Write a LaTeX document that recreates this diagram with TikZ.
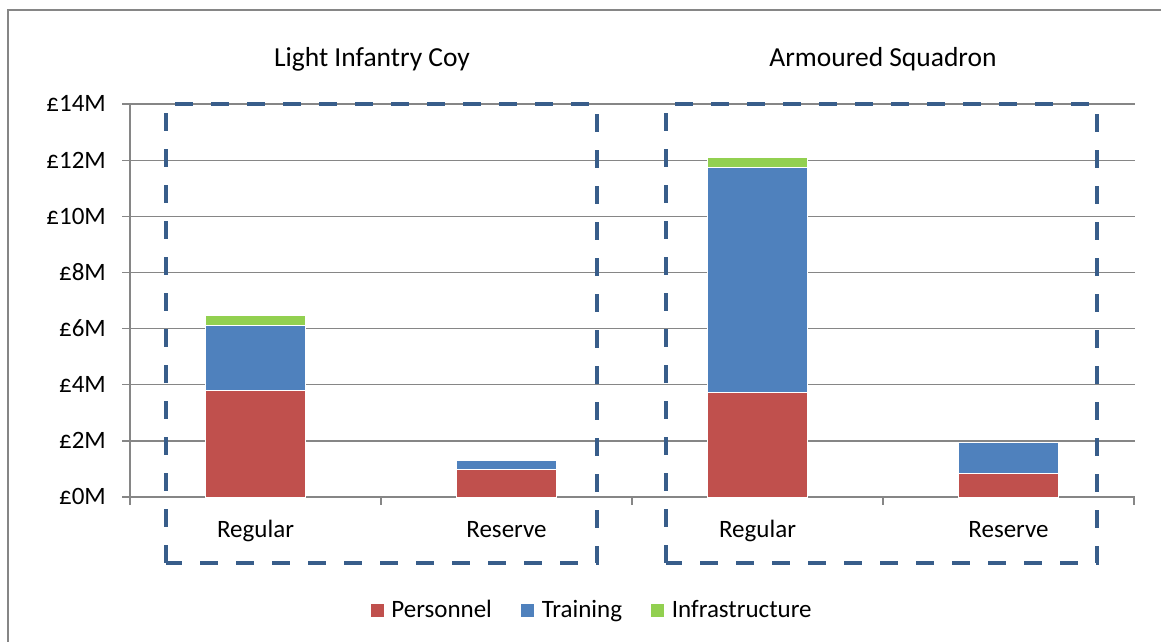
\documentclass[tikz,border=0pt]{standalone}
\usepackage{fontspec}
\setmainfont{Carlito}
\usetikzlibrary{positioning}

\definecolor{personnel}{RGB}{192,80,77}
\definecolor{training}{RGB}{79,129,189}
\definecolor{infra}{RGB}{146,208,80}
\definecolor{gridgray}{RGB}{134,134,134}
\definecolor{groupblue}{RGB}{56,93,138}

\begin{document}
\begin{tikzpicture}[
    x=1pt, y=1pt,
    gridline/.style={gridgray, line width=1.3pt},
    groupbox/.style={groupblue, line width=4pt, dash pattern=on 18pt off 18pt},
    barpart/.style={draw=white, line width=0.5pt},
    ticklabel/.style={anchor=base east, inner sep=0pt, font=\fontsize{25}{30}\selectfont},
    catlabel/.style={anchor=base, inner sep=0pt, font=\fontsize{25}{30}\selectfont},
    title/.style={anchor=base, inner sep=0pt, font=\fontsize{27.5}{33}\selectfont},
    legkey/.style={minimum size=13pt, inner sep=0pt},
    legtext/.style={inner sep=0pt, text height=20.25pt, text depth=6.25pt, font=\fontsize{25}{30}\selectfont}
]
\useasboundingbox (0,0) rectangle (1161,641);
% chart area frame (cut off at right and bottom)
\draw[gridgray, line width=1.5pt] (8,-20) -- (8,631) -- (1180,631);

\begin{scope}[shift={(130,144)}, y=28.07pt]
% grid and value axis
\foreach \v in {0,2,...,14} {
  \draw[gridline] (-8,\v) -- (1005,\v);
  \node[ticklabel] (tick\v) at (-24,\v-0.28) {£\v M};
}
\draw[gridline] (0,-0.29) -- (0,14);
\foreach \x in {251,502,753,1004}
  \draw[gridline] (\x,0) -- (\x,-0.29);

% stacked bars: centre / personnel / training / infrastructure
\foreach \c/\p/\t/\i in {125.5/3.81/2.32/0.35, 376.5/1.00/0.32/0, 627.5/3.74/8.02/0.35, 878.5/0.86/1.10/0} {
  \fill[personnel, barpart] (\c-50,0) rectangle (\c+50,\p);
  \fill[training, barpart] (\c-50,\p) rectangle (\c+50,\p+\t);
  \ifdim \i pt>0pt
    \fill[infra, barpart] (\c-50,\p+\t) rectangle (\c+50,\p+\t+\i);
  \fi
}

% category labels
\node[catlabel] (reg1) at (125.5,-1.46) {Regular};
\node[catlabel] (res1) at (376.5,-1.46) {Reserve};
\node[catlabel] (reg2) at (627.5,-1.46) {Regular};
\node[catlabel] (res2) at (878.5,-1.46) {Reserve};

% unit groups
\draw[groupbox] (36,-2.35) -- (36,14) -- (467,14) -- (467,-2.35) -- cycle;
\draw[groupbox] (536,-2.35) -- (536,14) -- (967,14) -- (967,-2.35) -- cycle;
\node[title] (infantry) at (242,15.32) {Light Infantry Coy};
\node[title] (armour) at (753,15.32) {Armoured Squadron};
\end{scope}

% legend
\node[legkey, fill=personnel] (kpers) at (377.5,31) {};
\node[legtext, right=7pt of kpers] (lpers) {Personnel};
\node[legkey, fill=training, right=29pt of lpers] (ktrain) {};
\node[legtext, right=7pt of ktrain] (ltrain) {Training};
\node[legkey, fill=infra, right=29pt of ltrain] (kinfra) {};
\node[legtext, right=7pt of kinfra] (linfra) {Infrastructure};
\end{tikzpicture}
\end{document}
